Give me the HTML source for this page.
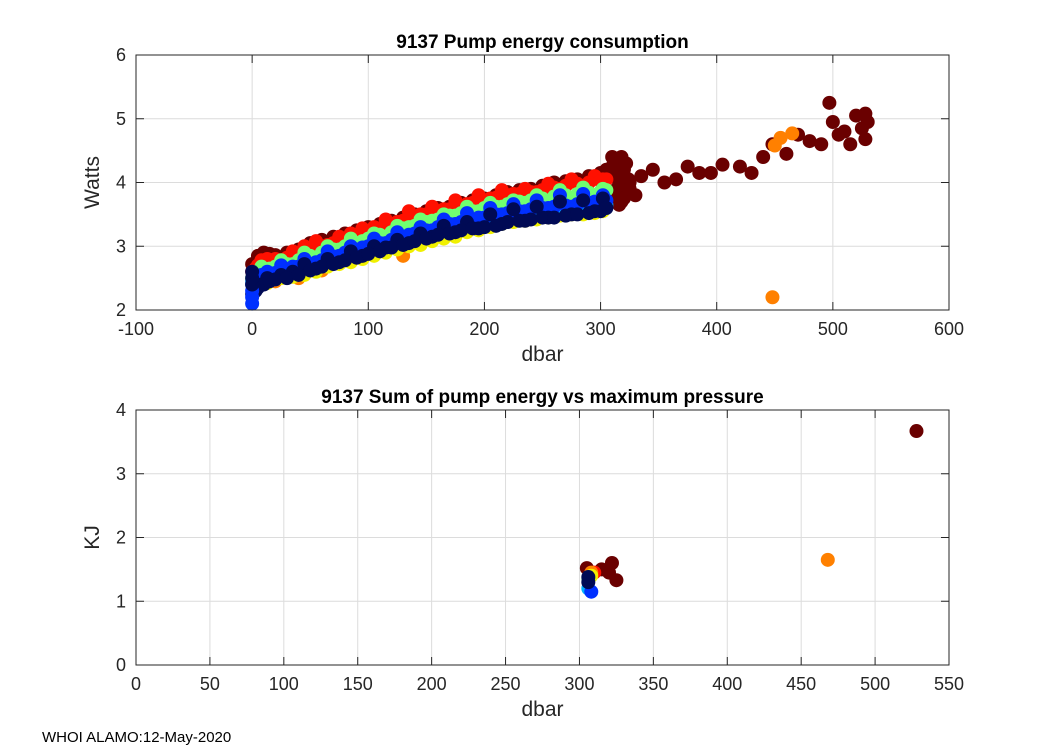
<!DOCTYPE html>
<html><head><meta charset="utf-8"><style>
body{margin:0;background:#fff;}
svg{display:block;font-family:"Liberation Sans",sans-serif;}
</style></head><body>
<svg id="c" width="1050" height="750"></svg>
<script>
const P = [0,5,10,15,20,30,40,50,60,70,80,90,100,110,120,130,140,150,160,170,180,190,200,210,220,230,240,250,260,270,280,290,300,305];
const P2 = [3,8,13,25,35,45,55,65,75,85,95,105,115,125,135,145,155,165,175,185,195,205,215,225,235,245,255,265,275,285,295,302];
const wDarkRed = [2.72,2.85,2.9,2.88,2.86,2.9,2.95,3.05,3.1,3.15,3.2,3.25,3.3,3.35,3.4,3.45,3.5,3.55,3.6,3.62,3.68,3.72,3.75,3.8,3.85,3.88,3.9,3.95,4.0,4.02,4.05,4.1,4.15,4.2];
const wRed = [2.6,2.7,2.75,2.78,2.8,2.82,2.88,2.95,3.0,3.05,3.1,3.18,3.22,3.28,3.35,3.4,3.45,3.5,3.55,3.58,3.62,3.68,3.72,3.76,3.8,3.82,3.85,3.88,3.92,3.95,3.98,4.0,4.02,4.05];
const wRed2 = [2.65,2.78,2.8,2.78,2.92,3.0,3.08,3.02,3.15,3.2,3.28,3.3,3.42,3.38,3.55,3.5,3.62,3.58,3.72,3.66,3.8,3.75,3.88,3.82,3.9,3.85,3.98,3.9,4.05,3.95,4.1,4.05];
const wGreen = [2.5,2.6,2.62,2.65,2.68,2.72,2.78,2.85,2.9,2.95,3.0,3.05,3.12,3.18,3.22,3.28,3.32,3.38,3.42,3.48,3.52,3.55,3.6,3.62,3.66,3.7,3.72,3.75,3.78,3.8,3.82,3.84,3.86,3.88];
const wGreen2 = [2.55,2.68,2.6,2.78,2.72,2.9,2.82,3.0,2.95,3.12,3.08,3.2,3.15,3.32,3.3,3.42,3.4,3.5,3.48,3.62,3.55,3.68,3.62,3.72,3.68,3.8,3.7,3.88,3.75,3.92,3.8,3.9];
const wYellow2 = [2.4,2.45,2.42,2.5,2.52,2.55,2.6,2.68,2.72,2.75,2.8,2.85,2.9,2.95,3.0,3.02,3.08,3.12,3.15,3.22,3.25,3.3,3.35,3.38,3.4,3.42,3.45,3.48,3.5,3.5,3.52,3.55];
const wCyan = [2.45,2.5,2.52,2.55,2.58,2.6,2.65,2.7,2.75,2.8,2.86,2.92,2.97,3.02,3.08,3.12,3.18,3.22,3.28,3.3,3.35,3.38,3.42,3.45,3.48,3.5,3.52,3.55,3.55,3.58,3.6,3.62,3.62,3.65];
const wBlue = [2.4,2.48,2.52,2.55,2.58,2.62,2.68,2.72,2.78,2.84,2.9,2.95,3.0,3.05,3.1,3.15,3.2,3.25,3.3,3.35,3.38,3.42,3.45,3.5,3.52,3.55,3.58,3.6,3.62,3.64,3.66,3.68,3.7,3.72];
const wBlue2 = [2.5,2.55,2.6,2.7,2.68,2.8,2.75,2.92,2.85,3.0,2.98,3.12,3.05,3.22,3.18,3.3,3.25,3.42,3.35,3.52,3.45,3.6,3.5,3.66,3.55,3.72,3.6,3.8,3.62,3.82,3.7,3.8];
const wNavy = [2.25,2.35,2.4,2.45,2.48,2.5,2.55,2.62,2.68,2.72,2.78,2.82,2.88,2.92,2.98,3.02,3.08,3.12,3.18,3.2,3.25,3.28,3.3,3.32,3.38,3.4,3.42,3.45,3.45,3.48,3.5,3.52,3.55,3.6];
const wNavy2 = [2.3,2.4,2.5,2.55,2.6,2.72,2.65,2.8,2.75,2.92,2.85,3.0,2.98,3.1,3.05,3.2,3.15,3.32,3.22,3.38,3.28,3.5,3.35,3.58,3.4,3.62,3.45,3.7,3.5,3.72,3.55,3.75];
const zeroStackW = [2.1,2.2,2.3,2.4,2.5,2.6];
const clusterP = [310,312,314,316,318,320,322,324,312,316,320,324,314,318,322,310,320,325];
const clusterW = [3.7,3.8,3.9,4.0,4.1,4.2,4.3,3.85,4.15,3.65,3.75,4.05,4.35,4.4,3.95,4.25,4.1,3.9];
const tailP = [310,315,320,320,318,322,325,330,335,345,355,365,375,385,395,405,420,430,440,448,460,470,480,490,497,500,505,510,515,520,525,528,528,530];
const tailW = [4.4,4.3,4.2,3.9,3.7,3.8,4.0,3.8,4.1,4.2,4.0,4.05,4.25,4.15,4.15,4.28,4.25,4.15,4.4,4.6,4.45,4.75,4.65,4.6,5.25,4.95,4.75,4.8,4.6,5.05,4.85,5.08,4.68,4.95];
const orangeP = [20,40,60,130,448,450,455,465];
const orangeW = [2.45,2.5,2.62,2.85,2.2,4.58,4.7,4.77];
const sumP = {darkred:[305,315,322,325,320,528],red:[310],orange:[308,468],yellow:[308],green:[306],cyan:[306],blue:[308],navy:[306,306]};
const sumE = {darkred:[1.52,1.5,1.6,1.33,1.45,3.67],red:[1.45],orange:[1.45,1.65],yellow:[1.4],green:[1.35],cyan:[1.2],blue:[1.15],navy:[1.3,1.38]};
const topXTicks = [-100,0,100,200,300,400,500,600];
const topYTicks = [2,3,4,5,6];
const botXTicks = [0,50,100,150,200,250,300,350,400,450,500,550];
const botYTicks = [0,1,2,3,4];

const COL = {darkred:'#6a0000',red:'#ff1000',orange:'#ff8000',yellow:'#f0f000',green:'#70ff70',cyan:'#00b0ff',blue:'#0030ff',navy:'#000a55'};
const svg = document.getElementById('c');
const NS = 'http://www.w3.org/2000/svg';
function el(t,a,p){const e=document.createElementNS(NS,t);for(const k in a)e.setAttribute(k,a[k]);(p||svg).appendChild(e);return e;}

function axes(name,L,R,T,B,x0,x1,y0,y1,xt,yt,title,xl,yl){
  const g=el('g',{});
  
  
  const sx=v=>L+(v-x0)/(x1-x0)*(R-L), sy=v=>B-(v-y0)/(y1-y0)*(B-T);
  el('rect',{x:L,y:T,width:R-L,height:B-T,fill:'#fff'},g);
  xt.forEach(v=>{const x=sx(v);
    el('line',{x1:x,x2:x,y1:T,y2:B,stroke:'#dcdcdc','stroke-width':1},g);
    el('line',{x1:x,x2:x,y1:B,y2:B-8,stroke:'#262626'},g);
    el('line',{x1:x,x2:x,y1:T,y2:T+8,stroke:'#262626'},g);
    const t=el('text',{x:x,y:B+25,'text-anchor':'middle','font-size':18,fill:'#262626'},g);t.textContent=v;
    
    });
  yt.forEach(v=>{const y=sy(v);
    el('line',{x1:L,x2:R,y1:y,y2:y,stroke:'#dcdcdc','stroke-width':1},g);
    el('line',{x1:L,x2:L+8,y1:y,y2:y,stroke:'#262626'},g);
    el('line',{x1:R,x2:R-8,y1:y,y2:y,stroke:'#262626'},g);
    const t=el('text',{x:L-10,y:y+6,'text-anchor':'end','font-size':18,fill:'#262626'},g);t.textContent=v;
    
    });
  const tt=el('text',{x:(L+R)/2,y:T-7,'text-anchor':'middle','font-size':19,'font-weight':'bold',fill:'#000'},g);tt.textContent=title;
  
  
  const xa=el('text',{x:(L+R)/2,y:B+51,'text-anchor':'middle','font-size':21,fill:'#262626'},g);xa.textContent=xl;
  
  
  const ya=el('text',{x:0,y:0,'text-anchor':'middle','font-size':21,fill:'#262626',transform:`translate(${L-37},${(T+B)/2}) rotate(-90)`},g);ya.textContent=yl;
  
  
  const pts=el('g',{},g);
  const dot=(px,py,c)=>{const d=el('circle',{cx:sx(px),cy:sy(py),r:7,fill:c},pts);
    
    };
  return {g,dot,frame:()=>el('rect',{x:L,y:T,width:R-L,height:B-T,fill:'none',stroke:'#262626','stroke-width':1},g)};
}

const A=axes('energy-vs-pressure-plot',136,949,55,310,-100,600,2,6,topXTicks,topYTicks,'9137 Pump energy consumption','dbar','Watts');
tailP.forEach((p,i)=>A.dot(p,tailW[i],COL.darkred));
clusterP.forEach((p,i)=>A.dot(p,clusterW[i],COL.darkred));
P.forEach((p,i)=>A.dot(p,wDarkRed[i],COL.darkred));
orangeP.forEach((p,i)=>A.dot(p,orangeW[i],COL.orange));
P2.forEach((p,i)=>A.dot(p,wYellow2[i],COL.yellow));
P2.forEach((p,i)=>A.dot(p,wRed2[i],COL.red));
P.forEach((p,i)=>A.dot(p,wRed[i],COL.red));
P2.forEach((p,i)=>A.dot(p,wGreen2[i],COL.green));
P.forEach((p,i)=>A.dot(p,wGreen[i],COL.green));
P.forEach((p,i)=>A.dot(p,wCyan[i],COL.cyan));
P2.forEach((p,i)=>A.dot(p,wBlue2[i],COL.blue));
P.forEach((p,i)=>A.dot(p,wBlue[i],COL.blue));
P2.forEach((p,i)=>A.dot(p,wNavy2[i],COL.navy));
P.forEach((p,i)=>A.dot(p,wNavy[i],COL.navy));
zeroStackW.forEach(v=>A.dot(0,v,v<2.35?COL.blue:COL.navy));
A.frame();

const B=axes('sum-energy-vs-max-pressure-plot',136,949,410,665,0,550,0,4,botXTicks,botYTicks,'9137 Sum of pump energy vs maximum pressure','dbar','KJ');
['darkred','red','orange','yellow','green','cyan','blue','navy'].forEach(c=>sumP[c].forEach((p,i)=>B.dot(p,sumE[c][i],COL[c])));
B.frame();

const f=el('text',{x:42,y:742,'font-size':15,fill:'#000'});f.textContent='WHOI ALAMO:12-May-2020';


</script>
</body></html>
